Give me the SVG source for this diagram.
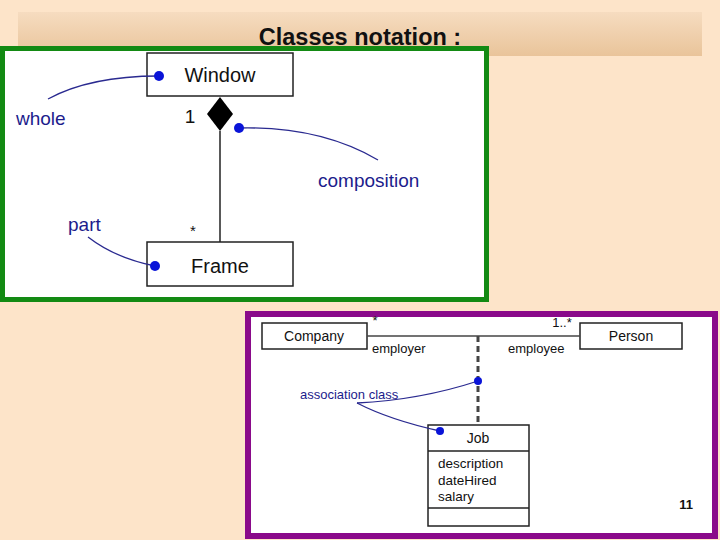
<svg xmlns="http://www.w3.org/2000/svg" width="720" height="540" viewBox="0 0 720 540">
<defs>
<linearGradient id="tg" x1="0" y1="0" x2="0" y2="1"><stop offset="0" stop-color="#f6dcc0"/><stop offset="1" stop-color="#e9c49a"/></linearGradient>
<style>
.box{fill:#fff;stroke:#222;stroke-width:1.5}
.t{font-family:"Liberation Sans",Arial,sans-serif;fill:#111}
.b{font-family:"Liberation Sans",Arial,sans-serif;fill:#1c1c8c}
.note{fill:none;stroke:#2a2a90;stroke-width:1.3}
.dot{fill:#0a14d8}
</style>
</defs>
<rect width="720" height="540" fill="#fde4c9"/>
<rect x="18" y="12" width="684" height="44" fill="url(#tg)"/>
<text class="t" x="360" y="45" font-size="23.5" font-weight="bold" text-anchor="middle">Classes notation :</text>
<rect x="2.5" y="48.5" width="484" height="251" fill="#fff" stroke="#138a13" stroke-width="5"/>
<rect x="248" y="314" width="467" height="222" fill="#fff" stroke="#8a0a8a" stroke-width="6"/>
<g id="window"><rect class="box" x="147" y="53" width="146" height="43"/><text class="t" x="220" y="82" font-size="20" text-anchor="middle">Window</text></g>
<g id="frame"><rect class="box" x="147" y="242" width="146" height="44"/><text class="t" x="220" y="273" font-size="20" text-anchor="middle">Frame</text></g>
<g id="company"><rect class="box" x="262" y="323" width="105" height="26"/><text class="t" x="314" y="341" font-size="14" text-anchor="middle">Company</text></g>
<g id="person"><rect class="box" x="580" y="323" width="102" height="26"/><text class="t" x="631" y="341" font-size="14" text-anchor="middle">Person</text></g>
<g id="job"><rect class="box" x="428" y="425" width="101" height="101"/>
<line x1="428" y1="451" x2="529" y2="451" stroke="#222" stroke-width="1.5"/>
<line x1="428" y1="508" x2="529" y2="508" stroke="#222" stroke-width="1.5"/>
<text class="t" x="478" y="443" font-size="14" text-anchor="middle">Job</text>
<text class="t" x="438" y="468" font-size="13.5">description</text>
<text class="t" x="438" y="485" font-size="13.5">dateHired</text>
<text class="t" x="438" y="501" font-size="13.5">salary</text></g>
<g id="connectors">
<line x1="220" y1="131" x2="220" y2="242" stroke="#222" stroke-width="1.5"/>
<polygon points="220,97 233,114 220,131 207,114" fill="#000"/>
<line x1="367" y1="336" x2="580" y2="336" stroke="#444" stroke-width="1.5"/>
<line x1="478" y1="336" x2="478" y2="425" stroke="#444" stroke-width="3" stroke-dasharray="6,4"/>
<path class="note" d="M48,99 Q90,76 159,76"/>
<path class="note" d="M239,128 Q320,126 378,160"/>
<path class="note" d="M88,237 Q115,258 155,266"/>
<path class="note" d="M357,403 Q420,400 478,381"/>
<path class="note" d="M357,403 Q390,420 440,431"/>
<circle class="dot" cx="159" cy="76" r="5"/>
<circle class="dot" cx="239" cy="128" r="5"/>
<circle class="dot" cx="155" cy="266" r="5"/>
<circle class="dot" cx="478" cy="381" r="4"/>
<circle class="dot" cx="440" cy="431" r="4"/>
<text class="t" x="190" y="123" font-size="19" text-anchor="middle">1</text>
<text class="t" x="193" y="236" font-size="15" text-anchor="middle">*</text>
<text class="t" x="375" y="325" font-size="13" text-anchor="middle">*</text>
<text class="t" x="562" y="327" font-size="13" text-anchor="middle">1..*</text>
<text class="t" x="372" y="353" font-size="13" fill="#333">employer</text>
<text class="t" x="508" y="353" font-size="13" fill="#333">employee</text>
<text class="b" x="16" y="125" font-size="19">whole</text>
<text class="b" x="318" y="187" font-size="19">composition</text>
<text class="b" x="68" y="231" font-size="19">part</text>
<text class="b" x="300" y="399" font-size="13">association class</text>
</g>
<text class="t" x="686" y="509" font-size="13" font-weight="bold" text-anchor="middle">11</text>
</svg>
